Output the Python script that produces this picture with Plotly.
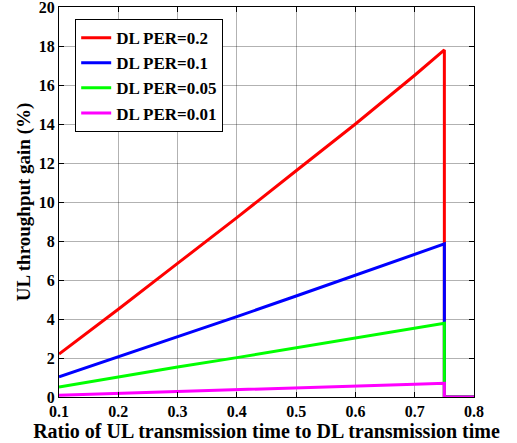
import plotly.graph_objects as go

x_vals = [0.1, 0.2, 0.3, 0.4, 0.5, 0.6, 0.7, 0.75, 0.75, 0.8]
per_02 = [2.2, 4.5, 6.85, 9.2, 11.6, 14.0, 16.5, 17.8, 0, 0]
per_01 = [1.03, 2.05, 3.08, 4.12, 5.18, 6.24, 7.32, 7.85, 0, 0]
per_005 = [0.51, 1.03, 1.54, 2.02, 2.52, 3.02, 3.52, 3.78, 0, 0]
per_001 = [0.09, 0.19, 0.29, 0.39, 0.48, 0.57, 0.66, 0.7, 0, 0]

series_names = ["DL PER=0.2", "DL PER=0.1", "DL PER=0.05", "DL PER=0.01"]
series_vals = [per_02, per_01, per_005, per_001]
colors = ["#ff0000", "#0000ff", "#00ff00", "#ff00ff"]

x_ticks = [0.1, 0.2, 0.3, 0.4, 0.5, 0.6, 0.7, 0.8]
y_ticks = [0, 2, 4, 6, 8, 10, 12, 14, 16, 18, 20]

font_family = "Liberation Serif, Times New Roman, serif"

fig = go.Figure()
for name, vals, c in zip(series_names, series_vals, colors):
    fig.add_trace(go.Scatter(x=x_vals, y=vals, mode="lines", name=f"<b>{name}</b>",
                             line=dict(color=c, width=3), cliponaxis=False))

axis_common = dict(
    showline=True, linecolor="black", linewidth=1, mirror="ticks",
    ticks="inside", ticklen=5, tickcolor="black",
    showgrid=True, gridcolor="rgba(0,0,0,0.3)", gridwidth=1,
    zeroline=False, automargin=False, ticklabeloverflow="allow",
    tickfont=dict(family=font_family, size=16, color="black"),
)

fig.update_layout(
    width=517, height=443,
    margin=dict(l=59, r=43, t=7, b=46),
    paper_bgcolor="white", plot_bgcolor="white",
    font=dict(family=font_family, color="black"),
    xaxis=dict(range=[0.1, 0.8], tickvals=x_ticks,
               ticktext=[f"<b>{v:.1f}</b>" for v in x_ticks],
               title=dict(text="<b>Ratio of UL transmission time to DL transmission time</b>",
                          font=dict(family=font_family, size=20, color="black"), standoff=1),
               **axis_common),
    yaxis=dict(range=[0, 20], tickvals=y_ticks,
               ticktext=[f"<b>{v}</b>" for v in y_ticks],
               title=dict(text="<b>UL throughput gain (%)</b>",
                          font=dict(family=font_family, size=19, color="black"), standoff=3),
               **axis_common),
    legend=dict(x=0.039, y=0.969, xanchor="left", yanchor="top",
                bgcolor="white", bordercolor="black", borderwidth=1,
                font=dict(family=font_family, size=17, color="black"),
                tracegroupgap=0, itemwidth=30),
    showlegend=True,
)

fig.write_html("out.html", config={"displayModeBar": False},
               post_script="document.body.style.margin='0px';")
